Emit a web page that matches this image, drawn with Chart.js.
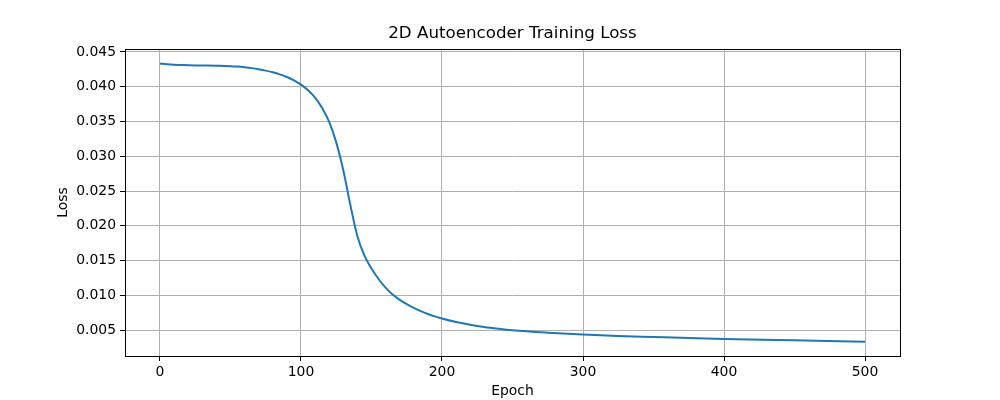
<!DOCTYPE html>
<html>
<head>
<meta charset="utf-8">
<script src="https://cdn.jsdelivr.net/npm/chart.js@4"></script>
<style>
  body { margin: 0; background: #fff; }
  canvas { display: block; }
</style>
</head>
<body>
<canvas id="lossChart" width="1000" height="400"></canvas>
<script>
// valores
var epochs = [0, 5, 10, 20, 30, 40, 50, 55, 60, 65, 70, 75, 80, 85, 90, 95, 100, 105, 110, 115, 120, 125, 130, 135, 140, 145, 150, 155, 160, 165, 170, 175, 180, 185, 190, 195, 200, 210, 220, 230, 240, 250, 275, 300, 325, 350, 375, 400, 450, 500];
var lossValues = [0.04335, 0.04322, 0.04315, 0.04310, 0.04306, 0.04302, 0.04296, 0.04290, 0.04280, 0.04268, 0.04252, 0.04232, 0.04208, 0.04178, 0.04140, 0.04092, 0.04030, 0.03950, 0.03845, 0.03695, 0.03495, 0.03200, 0.02800, 0.02300, 0.01850, 0.01570, 0.01385, 0.01235, 0.01110, 0.01010, 0.00935, 0.00873, 0.00820, 0.00773, 0.00732, 0.00697, 0.00666, 0.00615, 0.00575, 0.00543, 0.00518, 0.00497, 0.00462, 0.00435, 0.00415, 0.00400, 0.00385, 0.00372, 0.00352, 0.00333];
var xTicks = [0, 100, 200, 300, 400, 500];
var yTicks = [0.005, 0.010, 0.015, 0.020, 0.025, 0.030, 0.035, 0.040, 0.045];
var tituloGrafico = '2D Autoencoder Training Loss';

var fonte = 'DejaVu Sans';

var pontos = epochs.map(function (e, i) {
    return { x: e, y: lossValues[i] };
});

// moldura completa e título centrado sobre a área do gráfico
var moldura = {
    id: 'moldura',
    afterDraw: function (chart) {
        var a = chart.chartArea;
        var ctx = chart.ctx;
        ctx.save();
        ctx.strokeStyle = '#000';
        ctx.lineWidth = 1;
        ctx.strokeRect(Math.round(a.left) + 0.5, Math.round(a.top) + 0.5,
            Math.round(a.right - a.left), Math.round(a.bottom - a.top));
        ctx.fillStyle = '#000';
        ctx.font = '16.7px "' + fonte + '"';
        ctx.textAlign = 'center';
        ctx.textBaseline = 'middle';
        ctx.fillText(tituloGrafico, (a.left + a.right) / 2, 34);
        ctx.restore();
    }
};

var ctxLoss = document.getElementById('lossChart').getContext('2d');

var graficoLoss = new Chart(ctxLoss, {
    type: 'line',
    data: {
        datasets: [{
            data: pontos,
            borderColor: '#1f77b4',
            borderWidth: 2,
            pointRadius: 0,
            fill: false,
            cubicInterpolationMode: 'monotone'
        }]
    },
    options: {
        responsive: false,
        animation: false,
        layout: {
            padding: { left: 0, right: 100, top: 49, bottom: 0 }
        },
        scales: {
            x: {
                type: 'linear',
                min: -24.8,
                max: 524.8,
                afterBuildTicks: function (scale) {
                    scale.ticks = xTicks.map(function (v) { return { value: v }; });
                },
                afterFit: function (scale) {
                    scale.height = 44;
                },
                ticks: {
                    color: '#000',
                    padding: 3,
                    maxRotation: 0,
                    font: { family: fonte, size: 13.9 },
                    callback: function (v) { return v; }
                },
                grid: {
                    color: '#b0b0b0',
                    tickColor: '#000',
                    tickLength: 5,
                    lineWidth: 1
                },
                border: { display: false },
                title: {
                    display: true,
                    text: 'Epoch',
                    color: '#000',
                    font: { family: fonte, size: 13.9 },
                    padding: { top: 1, bottom: 0 }
                }
            },
            y: {
                min: 0.00127,
                max: 0.04543,
                afterBuildTicks: function (scale) {
                    scale.ticks = yTicks.map(function (v) { return { value: v }; });
                },
                afterFit: function (scale) {
                    scale.width = 125;
                },
                ticks: {
                    color: '#000',
                    padding: 4,
                    font: { family: fonte, size: 13.9 },
                    callback: function (v) { return v.toFixed(3); }
                },
                grid: {
                    color: '#b0b0b0',
                    tickColor: '#000',
                    tickLength: 5,
                    lineWidth: 1
                },
                border: { display: false },
                title: {
                    display: true,
                    text: 'Loss',
                    color: '#000',
                    font: { family: fonte, size: 13.9 },
                    padding: { top: 55, bottom: 0 }
                }
            }
        },
        plugins: {
            legend: { display: false },
            tooltip: { enabled: false },
            title: { display: false }
        }
    },
    plugins: [moldura]
});
</script>
</body>
</html>
